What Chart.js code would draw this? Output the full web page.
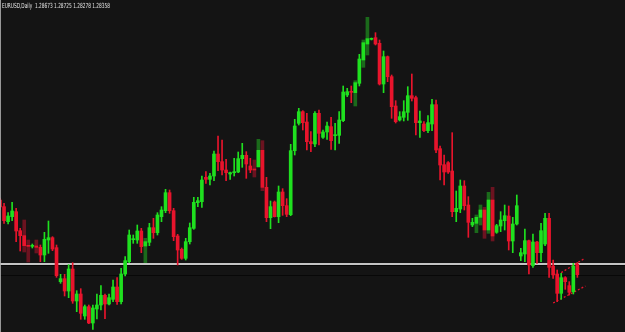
<!DOCTYPE html>
<html lang="en">

<head>
    <meta charset="UTF-8">
    <title>EURUSD,Daily</title>
    <script src="https://cdn.jsdelivr.net/npm/chart.js"></script>
    <style>
        html, body { margin: 0; padding: 0; background: #141414; }
        #wrap { width: 625px; height: 332px; }
    </style>
</head>

<body>
    <div id="wrap"><canvas id="chart" width="625" height="332"></canvas></div>

    <script>
        // EURUSD daily candles, oldest first
        const symbol = 'EURUSD,Daily';

        const opens = [
            1.3060, 1.3040, 1.2995, 1.3010, 1.3025, 1.2968, 1.2953, 1.2923, 1.2921, 1.2922, 1.2918, 1.2895,
            1.2940, 1.2947, 1.2917, 1.2815, 1.2824, 1.2787, 1.2853, 1.2757, 1.2778, 1.2712, 1.2740, 1.2691,
            1.2733, 1.2745, 1.2774, 1.2748, 1.2762, 1.2799, 1.2755, 1.2838, 1.2875, 1.2941, 1.2940, 1.2967,
            1.2922, 1.2933, 1.2977, 1.2962, 1.3010, 1.3028, 1.3082, 1.3028, 1.2952, 1.2912, 1.2885, 1.2935,
            1.2975, 1.3052, 1.3055, 1.3128, 1.3122, 1.3132, 1.3198, 1.3175, 1.3150, 1.3138, 1.3142, 1.3144,
            1.3184, 1.3194, 1.3162, 1.3152, 1.3160, 1.3209, 1.3098, 1.3007, 1.3054, 1.3010, 1.3084, 1.3043,
            1.3016, 1.3208, 1.3290, 1.3325, 1.3294, 1.3235, 1.3228, 1.3320, 1.3248, 1.3264, 1.3280, 1.3253,
            1.3254, 1.3298, 1.3375, 1.3385, 1.3382, 1.3410, 1.3480, 1.3528, 1.3542, 1.3547, 1.3530, 1.3408,
            1.3490, 1.3430, 1.3342, 1.3300, 1.3308, 1.3323, 1.3373, 1.3367, 1.3292, 1.3288, 1.3268, 1.3288,
            1.3346, 1.3214, 1.3166, 1.3172, 1.3147, 1.3025, 1.3033, 1.3102, 1.3045, 1.2985, 1.2990, 1.3008,
            1.3030, 1.2970, 1.3060, 1.2963, 1.2982, 1.2998, 1.3012, 1.2937, 1.2988, 1.2892, 1.2898, 1.2938,
            1.2863, 1.2934, 1.2902, 1.2928, 1.3005, 1.2862, 1.2838, 1.2780, 1.2827, 1.2803, 1.2785, 1.28673
        ];

        const highs = [
            1.3066, 1.3050, 1.3022, 1.3053, 1.3035, 1.2975, 1.3000, 1.2940, 1.2928, 1.2940, 1.2925, 1.2963,
            1.2997, 1.2950, 1.2925, 1.2837, 1.2837, 1.2866, 1.2872, 1.2788, 1.2794, 1.2745, 1.2745, 1.2745,
            1.2778, 1.2803, 1.2778, 1.2778, 1.2820, 1.2827, 1.2855, 1.2890, 1.2970, 1.2955, 1.2985, 1.2975,
            1.2945, 1.2990, 1.3005, 1.3022, 1.3040, 1.3092, 1.3090, 1.3035, 1.2957, 1.2916, 1.2945, 1.2991,
            1.3068, 1.3068, 1.3132, 1.3145, 1.3140, 1.3207, 1.3252, 1.3240, 1.3182, 1.3144, 1.3185, 1.3204,
            1.3230, 1.3205, 1.3185, 1.3180, 1.3242, 1.3238, 1.3128, 1.3057, 1.3057, 1.3102, 1.3094, 1.3064,
            1.3227, 1.3302, 1.3335, 1.3328, 1.3320, 1.3265, 1.3325, 1.3330, 1.3270, 1.3294, 1.3308, 1.3290,
            1.3325, 1.3402, 1.3395, 1.3402, 1.3418, 1.3497, 1.3540, 1.3608, 1.3546, 1.3562, 1.3540, 1.3507,
            1.3492, 1.3435, 1.3358, 1.3325, 1.3358, 1.3400, 1.3438, 1.3372, 1.3327, 1.3295, 1.3313, 1.3362,
            1.3360, 1.3222, 1.3195, 1.3175, 1.3262, 1.3087, 1.3120, 1.3118, 1.3070, 1.3005, 1.3015, 1.3045,
            1.3038, 1.3083, 1.3098, 1.2987, 1.3025, 1.3045, 1.3042, 1.3008, 1.3075, 1.2915, 1.2973, 1.2940,
            1.2958, 1.2936, 1.2990, 1.3020, 1.3020, 1.2880, 1.2850, 1.2840, 1.2830, 1.2815, 1.2870, 1.28725
        ];

        const lows = [
            1.3030, 1.2990, 1.2988, 1.2998, 1.2935, 1.2907, 1.2904, 1.2874, 1.2916, 1.2901, 1.2875, 1.2875,
            1.2900, 1.2908, 1.2828, 1.2810, 1.2772, 1.2767, 1.2750, 1.2725, 1.2702, 1.2702, 1.2689, 1.2672,
            1.2703, 1.2730, 1.2704, 1.2745, 1.2755, 1.2747, 1.2748, 1.2832, 1.2872, 1.2930, 1.2930, 1.2902,
            1.2872, 1.2923, 1.2945, 1.2955, 1.2995, 1.3022, 1.3020, 1.2938, 1.2865, 1.2882, 1.2880, 1.2928,
            1.2972, 1.3040, 1.3038, 1.3110, 1.3105, 1.3118, 1.3148, 1.3135, 1.3118, 1.3122, 1.3132, 1.3142,
            1.3158, 1.3125, 1.3142, 1.3129, 1.3158, 1.3088, 1.2995, 1.2974, 1.3009, 1.2992, 1.3014, 1.3010,
            1.3013, 1.3195, 1.3285, 1.3270, 1.3210, 1.3205, 1.3220, 1.3225, 1.3245, 1.3242, 1.3212, 1.3210,
            1.3230, 1.3295, 1.3370, 1.3352, 1.3342, 1.3402, 1.3458, 1.3495, 1.3540, 1.3525, 1.3405, 1.3382,
            1.3415, 1.3305, 1.3291, 1.3297, 1.3297, 1.3299, 1.3357, 1.3255, 1.3248, 1.3265, 1.3262, 1.3268,
            1.3202, 1.3120, 1.3105, 1.3140, 1.3010, 1.2995, 1.3022, 1.3030, 1.2948, 1.2980, 1.2962, 1.2985,
            1.2945, 1.2960, 1.2937, 1.2960, 1.2965, 1.2970, 1.2910, 1.2902, 1.2985, 1.2878, 1.2875, 1.2838,
            1.2858, 1.2870, 1.2875, 1.2923, 1.2828, 1.2825, 1.2755, 1.2762, 1.2792, 1.2775, 1.2778, 1.28278
        ];

        const closes = [
            1.3039, 1.2998, 1.3012, 1.3027, 1.2967, 1.2953, 1.2923, 1.2921, 1.2923, 1.2918, 1.2895, 1.2942,
            1.2947, 1.2913, 1.2833, 1.2824, 1.2787, 1.2853, 1.2757, 1.2778, 1.2720, 1.2740, 1.2691, 1.2736,
            1.2745, 1.2774, 1.2748, 1.2767, 1.2799, 1.2755, 1.2838, 1.2878, 1.2955, 1.2943, 1.2967, 1.2920,
            1.2935, 1.2977, 1.2962, 1.3015, 1.3030, 1.3082, 1.3028, 1.2950, 1.2910, 1.2885, 1.2935, 1.2977,
            1.3053, 1.3058, 1.3120, 1.3122, 1.3132, 1.3198, 1.3175, 1.3150, 1.3142, 1.3142, 1.3145, 1.3184,
            1.3194, 1.3168, 1.3150, 1.3150, 1.3209, 1.3098, 1.3007, 1.3040, 1.3010, 1.3084, 1.3043, 1.3017,
            1.3208, 1.3282, 1.3325, 1.3292, 1.3235, 1.3229, 1.3320, 1.3260, 1.3264, 1.3282, 1.3238, 1.3255,
            1.3300, 1.3384, 1.3385, 1.3383, 1.3412, 1.3483, 1.3532, 1.3544, 1.3544, 1.3528, 1.3408, 1.3490,
            1.3430, 1.3340, 1.3295, 1.3310, 1.3325, 1.3373, 1.3365, 1.3292, 1.3297, 1.3268, 1.3292, 1.3346,
            1.3210, 1.3165, 1.3144, 1.3144, 1.3025, 1.3035, 1.3102, 1.3043, 1.2993, 1.2993, 1.3008, 1.3030,
            1.2970, 1.3060, 1.2952, 1.2983, 1.3000, 1.3013, 1.2937, 1.2988, 1.3043, 1.2902, 1.2938, 1.2865,
            1.2934, 1.2902, 1.2968, 1.3005, 1.2858, 1.2835, 1.2780, 1.2827, 1.2815, 1.2783, 1.2862, 1.28358
        ];

        // bars whose high-low range shows as a dim, wide shadow in the screenshot
        const fadedBars = [6, 7, 9, 36, 63, 64, 65, 88, 90, 91, 118, 119, 120, 121, 122];

        // horizontal line object and the two dotted channel lines (bar index, price)
        const levelPrice = 1.28695;
        const channelUpper = [[139, 1.2842], [144.7, 1.2884]];
        const channelLower = [[137, 1.2751], [145, 1.2802]];

        const bullColor = '#1fe01f';
        const bearColor = '#e8142c';
        const bullDim = '#1b6a1b';
        const bearDim = '#6c1320';

        const last = opens.length - 1;
        const isBull = (i) => closes[i] >= opens[i];
        const candleColor = (i) => isBull(i) ? bullColor : bearColor;

        const bodies = opens.map((o, i) => ({ x: i, y: [o, closes[i]] }));
        const wicks = opens.map((o, i) => ({ x: i, y: fadedBars.includes(i) ? null : [lows[i], highs[i]] }));
        const shadows = fadedBars.map(i => ({ x: i, y: [lows[i], highs[i]] }));

        // level line + bid line behind the candles, header and frame on top
        const overlay = {
            id: 'overlay',
            beforeDatasetsDraw(chart) {
                const ctx = chart.ctx;
                const y = chart.scales.y;
                const w = chart.width;
                ctx.save();
                const py = Math.floor(y.getPixelForValue(levelPrice));
                ctx.fillStyle = '#c4c4c4';
                ctx.fillRect(0, py, w, 2);
                ctx.fillStyle = '#060606';
                ctx.fillRect(0, py + 2, w, 1);
                const pb = Math.round(y.getPixelForValue(closes[last]));
                ctx.fillStyle = '#080808';
                ctx.fillRect(0, pb, w, 1);
                ctx.restore();
            },
            afterDraw(chart) {
                const ctx = chart.ctx;
                ctx.save();
                ctx.fillStyle = 'rgba(175,175,175,0.85)';
                ctx.fillRect(0, 0, 1, chart.height);
                const txt = symbol + '  ' + [opens[last], highs[last], lows[last], closes[last]]
                    .map(v => v.toFixed(5)).join(' ');
                ctx.font = '7px "DejaVu Sans"';
                ctx.fillStyle = '#e6e6e6';
                ctx.textBaseline = 'alphabetic';
                ctx.fillText(txt, 2, 7.5, 108);
                ctx.restore();
            }
        };

        const grafico = new Chart(document.getElementById('chart'), {
            type: 'bar',
            data: {
                datasets: [
                    {
                        label: 'body',
                        data: bodies,
                        order: 1,
                        barThickness: 3,
                        minBarLength: 1,
                        grouped: false,
                        borderWidth: 0,
                        backgroundColor: (c) => candleColor(c.dataIndex)
                    },
                    {
                        label: 'wick',
                        data: wicks,
                        order: 2,
                        barThickness: 1,
                        grouped: false,
                        borderWidth: 0,
                        backgroundColor: (c) => candleColor(c.dataIndex)
                    },
                    {
                        label: 'shadow',
                        data: shadows,
                        order: 3,
                        barThickness: 3,
                        grouped: false,
                        borderWidth: 0,
                        backgroundColor: (c) => isBull(fadedBars[c.dataIndex]) ? bullDim : bearDim
                    },
                    {
                        type: 'line',
                        label: 'channel top',
                        data: channelUpper.map(p => ({ x: p[0], y: p[1] })),
                        order: 4,
                        borderColor: bearColor,
                        borderWidth: 1.3,
                        borderDash: [2, 2],
                        pointRadius: 0,
                        fill: false
                    },
                    {
                        type: 'line',
                        label: 'channel bottom',
                        data: channelLower.map(p => ({ x: p[0], y: p[1] })),
                        order: 4,
                        borderColor: bearColor,
                        borderWidth: 1.3,
                        borderDash: [2, 2],
                        pointRadius: 0,
                        fill: false
                    }
                ]
            },
            options: {
                responsive: false,
                animation: false,
                devicePixelRatio: 1,
                layout: { padding: 0 },
                plugins: {
                    legend: { display: false },
                    tooltip: { enabled: false }
                },
                scales: {
                    x: { type: 'linear', min: 0, max: 154.8, offset: false, display: false },
                    y: { min: 1.2664, max: 1.3660, display: false }
                }
            },
            plugins: [overlay]
        });
    </script>
</body>

</html>
